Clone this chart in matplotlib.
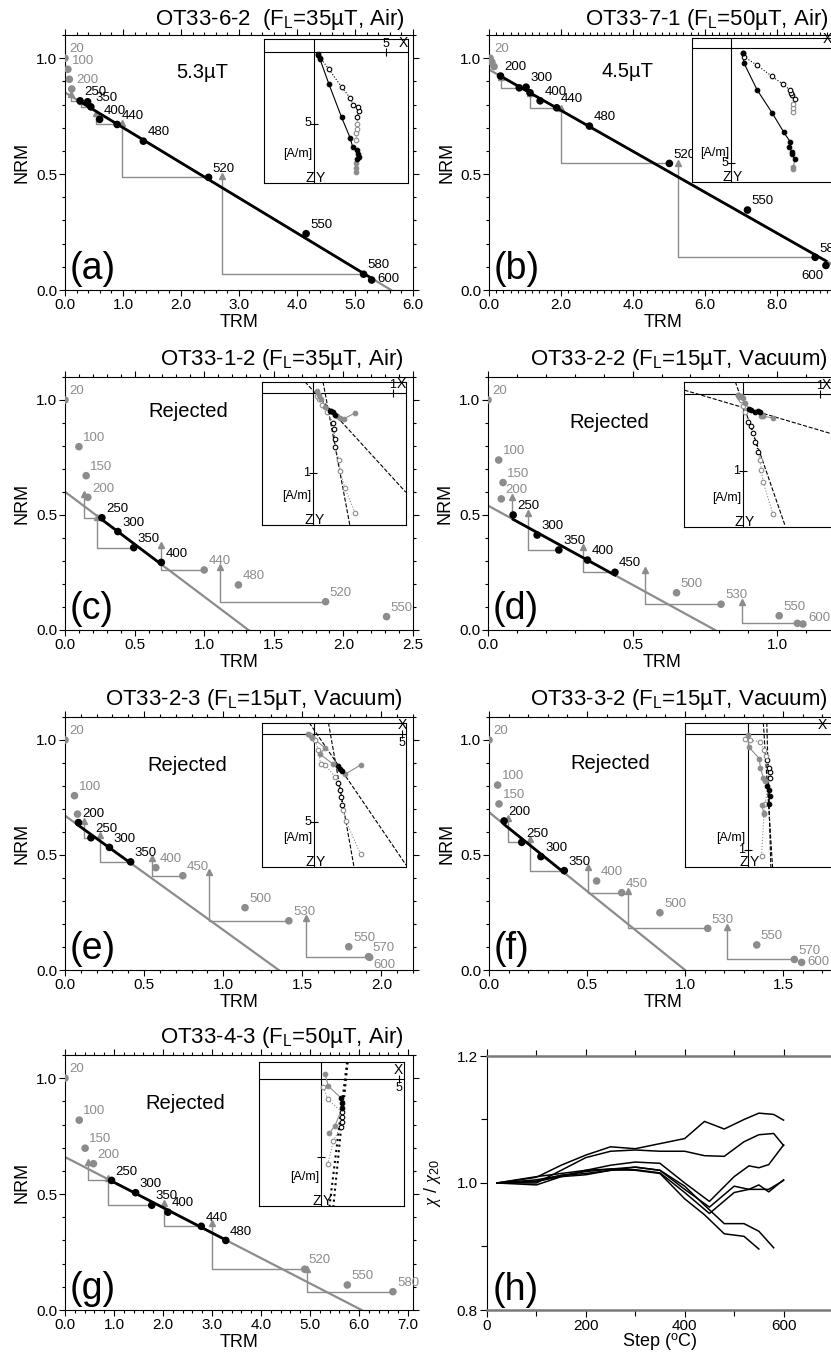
import numpy as np
import matplotlib
matplotlib.use('Agg')
import matplotlib.pyplot as plt
from matplotlib.ticker import MultipleLocator, FormatStrFormatter

W, H = 831, 1355
GRAY = '#8c8c8c'

plt.rcParams['font.family'] = ['Liberation Sans', 'DejaVu Sans']
plt.rcParams['mathtext.fontset'] = 'custom'
plt.rcParams['mathtext.rm'] = 'Liberation Sans'
plt.rcParams['mathtext.it'] = 'Liberation Serif:italic'
plt.rcParams['axes.linewidth'] = 0.8

# ---------------- Arai data ----------------
# (a) OT33-6-2
steps_a = [20, 100, 150, 200, 250, 300, 350, 400, 440, 480, 520, 550, 580, 600]
trm_a = [0.00, 0.05, 0.075, 0.116, 0.26, 0.39, 0.446, 0.597, 0.899, 1.351, 2.475, 4.157, 5.148, 5.287]
nrm_a = [1.00, 0.952, 0.909, 0.867, 0.816, 0.812, 0.790, 0.736, 0.714, 0.642, 0.486, 0.243, 0.068, 0.043]
lab_a = [20, 100, 200, 250, 350, 400, 440, 480, 520, 550, 580, 600]
sel_a = (250, 600)
fit_a = (0.852, 5.62)
chk_a = [(250, 0.10, 0.845), (350, 0.27, 0.815), (440, 0.53, 0.765), (520, 0.99, 0.72), (580, 2.71, 0.49)]

# (b) OT33-7-1
steps_b = [20, 100, 150, 200, 250, 300, 350, 400, 440, 480, 520, 550, 580, 600]
trm_b = [0.03, 0.08, 0.14, 0.32, 0.84, 1.03, 1.14, 1.42, 1.88, 2.79, 5.01, 7.18, 9.06, 9.36]
nrm_b = [1.00, 0.983, 0.964, 0.923, 0.872, 0.875, 0.851, 0.816, 0.786, 0.707, 0.546, 0.345, 0.141, 0.106]
lab_b = [20, 200, 300, 400, 440, 480, 520, 550, 580, 600]
sel_b = (200, 600)
fit_b = (0.951, 10.78)
chk_b = [(250, 0.32, 0.92), (440, 1.14, 0.85), (520, 2.0, 0.786), (580, 5.26, 0.55)]

# (c) OT33-1-2
steps_c = [20, 100, 150, 200, 250, 300, 350, 400, 440, 480, 520, 550]
trm_c = [0.0, 0.10, 0.152, 0.164, 0.265, 0.38, 0.494, 0.692, 1.0, 1.246, 1.872, 2.31]
nrm_c = [1.0, 0.797, 0.671, 0.577, 0.488, 0.428, 0.358, 0.294, 0.261, 0.196, 0.123, 0.058]
lab_c = steps_c
sel_c = (250, 400)
fit_c = (0.601, 1.318)
chk_c = [(250, 0.137, 0.593), (350, 0.229, 0.49), (440, 0.687, 0.37), (520, 1.113, 0.275)]

# (d) OT33-2-2
steps_d = [20, 100, 150, 200, 250, 300, 350, 400, 450, 500, 530, 550, 570, 600]
trm_d = [0.0, 0.037, 0.052, 0.046, 0.087, 0.17, 0.245, 0.344, 0.439, 0.652, 0.806, 1.007, 1.07, 1.089]
nrm_d = [1.0, 0.739, 0.641, 0.57, 0.50, 0.413, 0.348, 0.304, 0.251, 0.162, 0.112, 0.062, 0.029, 0.026]
lab_d = [20, 100, 150, 200, 250, 300, 350, 400, 450, 500, 530, 550, 600]
sel_d = (250, 450)
fit_d = (0.541, 0.785)
chk_d = [(250, 0.084, 0.58), (350, 0.139, 0.507), (450, 0.329, 0.362), (530, 0.543, 0.261), (570, 0.878, 0.123)]

# (e) OT33-2-3
steps_e = [20, 100, 150, 200, 250, 300, 350, 400, 450, 500, 530, 550, 570, 600]
trm_e = [0.0, 0.06, 0.079, 0.085, 0.164, 0.281, 0.415, 0.574, 0.745, 1.138, 1.415, 1.794, 1.919, 1.926]
nrm_e = [1.0, 0.758, 0.678, 0.641, 0.575, 0.533, 0.470, 0.445, 0.410, 0.271, 0.214, 0.101, 0.058, 0.055]
lab_e = [20, 100, 200, 250, 300, 350, 400, 450, 500, 530, 550, 570, 600]
sel_e = (200, 350)
fit_e = (0.671, 1.351)
chk_e = [(250, 0.123, 0.65), (350, 0.223, 0.587), (450, 0.553, 0.486), (530, 0.909, 0.428), (570, 1.526, 0.225)]

# (f) OT33-3-2
steps_f = [20, 100, 150, 200, 250, 300, 350, 400, 450, 500, 530, 550, 570, 600]
trm_f = [0.0, 0.044, 0.051, 0.077, 0.167, 0.265, 0.384, 0.549, 0.677, 0.872, 1.116, 1.366, 1.558, 1.595]
nrm_f = [1.0, 0.804, 0.722, 0.648, 0.555, 0.493, 0.432, 0.387, 0.336, 0.249, 0.181, 0.109, 0.046, 0.033]
lab_f = steps_f
sel_f = (200, 350)
fit_f = (0.686, 1.0)
chk_f = [(250, 0.095, 0.66), (350, 0.209, 0.57), (450, 0.503, 0.449), (530, 0.711, 0.345), (570, 1.213, 0.188)]

# (g) OT33-4-3
steps_g = [20, 100, 150, 200, 250, 300, 350, 400, 440, 480, 520, 550, 580]
trm_g = [0.0, 0.29, 0.41, 0.58, 0.95, 1.44, 1.77, 2.10, 2.78, 3.28, 4.89, 5.76, 6.69]
nrm_g = [1.0, 0.819, 0.698, 0.631, 0.559, 0.506, 0.452, 0.422, 0.361, 0.30, 0.176, 0.108, 0.079]
lab_g = steps_g
sel_g = (250, 480)
fit_g = (0.66, 6.05)
chk_g = [(250, 0.46, 0.64), (350, 0.87, 0.568), (440, 2.03, 0.462), (520, 3.0, 0.376), (580, 4.93, 0.176)]

# ---------------- Zijderveld inset data (A/m) ----------------
za_hx = [2.94, 2.94, 2.94, 2.98, 3.15, 3.05, 2.98, 2.70, 2.52, 1.93, 1.05, 0.42, 0.30]
za_hy = [8.37, 8.14, 7.79, 7.51, 7.32, 7.16, 6.85, 6.62, 5.99, 4.57, 2.26, 0.51, 0.21]
za_vx = [2.94, 2.94, 2.98, 2.98, 2.98, 3.15, 3.05, 2.75, 2.52, 1.93, 1.05, 0.42, 0.30]
za_vz = [6.15, 5.69, 5.35, 5.05, 4.57, 4.12, 3.82, 3.71, 3.20, 2.45, 1.21, 0.40, 0.14]

zb_hx = [2.71, 2.71, 2.78, 2.64, 2.64, 2.54, 2.57, 2.30, 1.80, 1.14, 0.57, 0.51]
zb_hy = [5.26, 5.16, 4.84, 4.61, 4.51, 4.30, 4.07, 3.67, 2.84, 1.83, 0.67, 0.23]
zb_vx = [2.71, 2.71, 2.71, 2.78, 2.67, 2.61, 2.57, 2.27, 1.77, 1.12, 0.57, 0.51]
zb_vz = [2.77, 2.62, 2.43, 2.23, 2.04, 1.97, 1.83, 1.58, 1.22, 0.74, 0.38, 0.20]

zc_hx = [0.525, 0.39, 0.34, 0.30, 0.275, 0.25, 0.22, 0.21, 0.15, 0.10, 0.07, 0.05]
zc_hy = [0.25, 0.32, 0.31, 0.29, 0.27, 0.24, 0.23, 0.22, 0.17, 0.08, 0.02, -0.02]
zc_vx = [0.525, 0.40, 0.34, 0.325, 0.28, 0.27, 0.26, 0.25, 0.17, 0.11, 0.07, 0.05]
zc_vz = [1.50, 1.19, 0.98, 0.84, 0.68, 0.58, 0.45, 0.37, 0.24, 0.15, 0.08, 0.04]
zc_fits = [((0.125, -0.14), (0.46, 1.65)), ((-0.10, -0.14), (1.16, 1.24))]

zd_hx = [0.39, 0.26, 0.24, 0.23, 0.22, 0.20, 0.16, 0.11, 0.08, 0.03, 0.0, -0.03, -0.05, -0.06]
zd_hy = [0.31, 0.29, 0.28, 0.26, 0.24, 0.22, 0.24, 0.21, 0.19, 0.12, 0.05, 0.02, 0.03, 0.01]
zd_vx = [0.39, 0.26, 0.24, 0.22, 0.20, 0.16, 0.13, 0.10, 0.07, 0.03, 0.0, -0.03, -0.05, -0.06]
zd_vz = [1.56, 1.14, 0.99, 0.86, 0.75, 0.62, 0.50, 0.42, 0.36, 0.24, 0.16, 0.08, 0.04, 0.01]
zd_fits = [((-0.10, -0.16), (0.55, 1.72)), ((-0.76, -0.05), (1.13, 0.51))]

ze_hx = [2.65, 1.76, 1.57, 1.48, 1.35, 1.10, 0.34, 0.63, -0.13, -0.32]
ze_hy = [1.76, 2.29, 2.08, 1.99, 1.82, 1.72, 1.14, 0.78, 0.19, 0.02]
ze_vx = [2.65, 1.80, 1.67, 1.61, 1.53, 1.48, 1.38, 1.19, 0.63, 0.38, 0.25, 0.06, -0.13, -0.23]
ze_vz = [6.82, 4.92, 4.32, 4.03, 3.56, 3.18, 2.77, 2.42, 1.76, 1.72, 0.91, 0.34, 0.21, 0.06]
ze_fits = [((0.82, -0.64), (2.27, 7.54)), ((-0.27, -0.64), (5.23, 7.44))]

zf_hx = [0.14, 0.12, 0.18, 0.19, 0.18, 0.17, 0.15, 0.135, 0.11, 0.10, 0.01, 0.0]
zf_hy = [0.68, 0.61, 0.60, 0.53, 0.48, 0.45, 0.40, 0.375, 0.29, 0.21, 0.11, 0.01]
zf_vx = [0.12, 0.14, 0.15, 0.19, 0.19, 0.18, 0.17, 0.16, 0.14, 0.106, 0.02, -0.02]
zf_vz = [1.05, 0.69, 0.60, 0.38, 0.33, 0.29, 0.22, 0.19, 0.136, 0.064, 0.05, 0.04]
zf_fits = [((0.135, -0.10), (0.215, 1.15)), ((0.165, -0.10), (0.20, 1.15))]

zg_hx = [0.54, 0.90, 1.37, 1.33, 1.27, 0.47, 0.26]
zg_hy = [3.48, 2.99, 1.87, 1.50, 1.19, 0.43, -0.34]
zg_vx = [0.43, 0.80, 1.27, 1.33, 1.35, 1.33, 0.43, 0.15]
zg_vz = [5.49, 3.98, 3.06, 2.75, 2.45, 2.10, 1.30, 0.48]
zg_fits = [((1.72, -1.10), (0.80, 8.17)), ((1.68, -1.10), (0.55, 8.17))]

# ---------------- susceptibility (h) ----------------
chi_steps1 = [20, 100, 150, 200, 250, 300, 350, 400, 440, 480, 520, 550, 580, 600]
chi_steps2 = [20, 100, 150, 200, 250, 300, 350, 400, 450, 500, 530, 550, 570, 600]
chi_a = [1.0, 1.009, 1.028, 1.044, 1.057, 1.054, 1.062, 1.07, 1.097, 1.085, 1.10, 1.11, 1.108, 1.099]
chi_b = [1.0, 1.0, 1.02, 1.04, 1.05, 1.052, 1.05, 1.05, 1.043, 1.042, 1.065, 1.076, 1.078, 1.059]
chi_d = [1.0, 1.003, 1.01, 1.02, 1.028, 1.033, 1.031, 1.0, 0.971, 1.01, 1.027, 1.024, 1.029, 1.06]
chi_e = [1.0, 1.005, 1.012, 1.015, 1.02, 1.025, 1.02, 0.99, 0.962, 0.995, 0.99, 0.997, 0.986, 1.005]
chi_f = [1.0, 0.997, 1.01, 1.013, 1.02, 1.021, 1.016, 0.985, 0.952, 0.985, 0.99, 0.99, 0.99, 1.004]
chi_steps_g = [20, 100, 150, 200, 250, 300, 350, 400, 440, 480, 520, 550, 580]
chi_g = [1.0, 1.01, 1.015, 1.02, 1.022, 1.025, 1.02, 0.995, 0.965, 0.936, 0.936, 0.924, 0.898]
chi_steps_c = [20, 100, 150, 200, 250, 300, 350, 400, 440, 480, 520, 550]
chi_c = [1.0, 1.002, 1.012, 1.018, 1.022, 1.02, 1.015, 0.975, 0.95, 0.92, 0.916, 0.896]


def fbox(l, t, r, b):
    return [l / W, 1 - b / H, (r - l) / W, (b - t) / H]


fig = plt.figure(figsize=(W / 100, H / 100), dpi=100)


def arai(box, steps, trm, nrm, labels, sel, fit, checks, xmax, xmaj, xmin,
         title, tx, ty, letter, note, note_xy, special=None):
    special = special or {}
    ax = fig.add_axes(fbox(*box))
    trm = np.array(trm)
    nrm = np.array(nrm)
    i0, i1 = steps.index(sel[0]), steps.index(sel[1])
    b0, xint = fit
    xs = np.array([0, xint])
    ax.plot(xs, b0 - b0 / xint * xs, color=GRAY, lw=1.6, zorder=1)
    xb = np.array([trm[i0], trm[i1]])
    ax.plot(xb, b0 - b0 / xint * xb, color='k', lw=2, zorder=3)
    for st, ct, cn in checks:
        j = steps.index(st)
        ax.plot([trm[j], ct, ct], [nrm[j], nrm[j], cn], color=GRAY, lw=1, zorder=2)
        ax.plot(ct, cn, marker='^', color=GRAY, ms=5, zorder=2)
    cols = ['k' if i0 <= i <= i1 else GRAY for i in range(len(steps))]
    ax.scatter(trm, nrm, c=cols, s=30, zorder=4, linewidths=0)
    for i, st in enumerate(steps):
        if st not in labels:
            continue
        dx, dy, ha, va = special.get(st, (3, 2, 'left', 'bottom'))
        ax.annotate(str(st), (trm[i], nrm[i]), xytext=(dx, dy), textcoords='offset points',
                    ha=ha, va=va, fontsize=9.5, color=cols[i], zorder=5)
    ax.set_xlim(0, xmax)
    ax.set_ylim(0, 1.1)
    ax.xaxis.set_major_locator(MultipleLocator(xmaj))
    ax.xaxis.set_minor_locator(MultipleLocator(xmin))
    ax.yaxis.set_major_locator(MultipleLocator(0.5))
    ax.yaxis.set_minor_locator(MultipleLocator(0.1))
    ax.xaxis.set_major_formatter(FormatStrFormatter('%.1f'))
    ax.yaxis.set_major_formatter(FormatStrFormatter('%.1f'))
    ax.tick_params(which='both', direction='out', top=True, right=True, labelsize=11,
                   width=0.8, pad=1.5)
    ax.tick_params(which='major', length=4)
    ax.tick_params(which='minor', length=2)
    wpx, hpx = box[2] - box[0], box[3] - box[1]
    ax.set_xlabel('TRM', fontsize=13)
    ax.set_ylabel('NRM', fontsize=13)
    ax.xaxis.set_label_coords(0.5 * 348 / wpx, -24 / hpx)
    ax.yaxis.set_label_coords(-34 / wpx, 0.5)
    fig.text(tx / W, 1 - ty / H, title, ha='right', va='baseline', fontsize=16)
    ax.text(5 / wpx, 11 / hpx, letter, transform=ax.transAxes, fontsize=27,
            ha='left', va='baseline')
    ax.text(note_xy[0], note_xy[1], note, transform=ax.transAxes, fontsize=14.5,
            ha='center', va='center')
    return ax


def series(ax, xs, ys, nfar, nnear, filled, ls):
    n = len(xs)
    col = [GRAY if (i < nfar or i >= n - nnear) else 'k' for i in range(n)]
    for i in range(n - 1):
        c = 'k' if (col[i] == 'k' and col[i + 1] == 'k') else GRAY
        ax.plot(xs[i:i + 2], ys[i:i + 2], color=c, lw=0.8, ls=ls, zorder=2)
    for i in range(n):
        ax.plot(xs[i], ys[i], 'o', ms=3.3, mec=col[i], mfc=col[i] if filled else 'white',
                mew=0.8, zorder=3)


def zij(box, org, s, hx, hy, hg, vx, vz, vg, fits, xlab_px, xtick=None, ytick=None,
        fit_ls='--', fit_lw=0.8):
    l, t, r, b = box
    ox, oy = org
    ax = fig.add_axes(fbox(*box))
    ax.set_xlim((l - ox) / s, (r - ox) / s)
    ax.set_ylim((b - oy) / s, (t - oy) / s)
    ax.set_xticks([])
    ax.set_yticks([])
    for sp in ax.spines.values():
        sp.set_linewidth(0.8)
    ax.axhline(0, color='k', lw=0.8, zorder=1)
    ax.axvline(0, color='k', lw=0.8, zorder=1)
    for p0, p1 in fits:
        ax.plot([p0[0], p1[0]], [p0[1], p1[1]], color='k', ls=fit_ls, lw=fit_lw, zorder=1)
    series(ax, vx, vz, vg[0], vg[1], False, ':')
    series(ax, hx, hy, hg[0], hg[1], True, '-')
    ax.text((xlab_px - ox) / s, -2 / s, 'X', ha='center', va='bottom', fontsize=10)
    if xtick is not None:
        val, lab, pos = xtick
        ax.plot(val, 0, marker='|', ms=6, color='k', mew=0.8)
        if pos == 'above':
            ax.text(val, -2 / s, lab, ha='center', va='bottom', fontsize=9)
        else:
            ax.text(val, 3 / s, lab, ha='center', va='top', fontsize=9)
    if ytick is not None:
        val, lab = ytick
        ax.plot(0, val, marker='_', ms=6, color='k', mew=0.8)
        if lab:
            ax.text(-3 / s, val, lab, ha='right', va='center', fontsize=9)
    ax.text(-2 / s, (b - 29 - oy) / s, '[A/m]', ha='right', va='center', fontsize=9)
    ax.text(0, (b - 5 - oy) / s, 'Z', ha='right', va='center', fontsize=10)
    ax.text(1.5 / s, (b - 5 - oy) / s, 'Y', ha='left', va='center', fontsize=10)
    return ax


# ---------------- panels ----------------
arai((65, 35, 413, 290), steps_a, trm_a, nrm_a, lab_a, sel_a, fit_a, chk_a, 6.0, 1.0, 0.2,
     'OT33-6-2  (F$_{\\rm L}$=35µT, Air)', 405, 25, '(a)', '5.3µT', (0.394, 0.851),
     special={600: (4, 1, 'left', 'center')})
arai((489, 35, 849, 290), steps_b, trm_b, nrm_b, lab_b, sel_b, fit_b, chk_b, 10.0, 2.0, 0.2,
     'OT33-7-1 (F$_{\\rm L}$=50µT, Air)', 828, 25, '(b)', '4.5µT', (0.386, 0.855),
     special={600: (-2, -3, 'right', 'top')})
arai((65, 377, 413, 630), steps_c, trm_c, nrm_c, lab_c, sel_c, fit_c, chk_c, 2.5, 0.5, 0.1,
     'OT33-1-2 (F$_{\\rm L}$=35µT, Air)', 403, 365, '(c)', 'Rejected', (0.353, 0.862))
arai((488, 377, 835, 630), steps_d, trm_d, nrm_d, lab_d, sel_d, fit_d, chk_d, 1.2, 0.5, 0.1,
     'OT33-2-2 (F$_{\\rm L}$=15µT, Vacuum)', 828, 365, '(d)', 'Rejected', (0.349, 0.822),
     special={600: (4, 0, 'left', 'bottom')})
arai((65, 717, 413, 970), steps_e, trm_e, nrm_e, lab_e, sel_e, fit_e, chk_e, 2.2, 0.5, 0.1,
     'OT33-2-3 (F$_{\\rm L}$=15µT, Vacuum)', 403, 705, '(e)', 'Rejected', (0.35, 0.81),
     special={600: (3, -1, 'left', 'top')})
arai((489, 717, 832, 970), steps_f, trm_f, nrm_f, lab_f, sel_f, fit_f, chk_f, 1.75, 0.5, 0.1,
     'OT33-3-2 (F$_{\\rm L}$=15µT, Vacuum)', 828, 705, '(f)', 'Rejected', (0.353, 0.818),
     special={600: (4, 0, 'left', 'center')})
arai((65, 1055, 413, 1310), steps_g, trm_g, nrm_g, lab_g, sel_g, fit_g, chk_g, 7.1, 1.0, 0.2,
     'OT33-4-3 (F$_{\\rm L}$=50µT, Air)', 403, 1043, '(g)', 'Rejected', (0.345, 0.81))

# ---------------- insets ----------------
zij((264, 39, 408, 183), (314, 52), 14.3, za_hx, za_hy, (3, 0), za_vx, za_vz, (4, 0), [], 403,
    xtick=(5, '5', 'above'), ytick=(5, '5'))
zij((692, 38, 860, 182), (731, 48), 23.0, zb_hx, zb_hy, (2, 0), zb_vx, zb_vz, (3, 0), [], 827,
    ytick=(5, '5'))
zij((262, 382, 406, 525), (313, 393), 80.0, zc_hx, zc_hy, (4, 4), zc_vx, zc_vz, (4, 4), zc_fits, 401,
    xtick=(1, '1', 'above'), ytick=(1, '1'))
zij((684, 382, 840, 527), (743, 394), 77.0, zd_hx, zd_hy, (4, 5), zd_vx, zd_vz, (4, 5), zd_fits, 826,
    xtick=(1, '1', 'above'), ytick=(1, '1'))
zij((262, 723, 406, 867), (314, 734), 17.6, ze_hx, ze_hy, (2, 5), ze_vx, ze_vz, (3, 7), ze_fits, 402,
    xtick=(5, '5', 'below'), ytick=(5, '5'))
zij((685, 723, 840, 867), (747.7, 734.3), 115.7, zf_hx, zf_hy, (2, 6), zf_vx, zf_vz, (3, 5), zf_fits, 822,
    ytick=(1, '1'))
zij((259, 1062, 404, 1206), (321, 1079.3), 15.5, zg_hx, zg_hy, (2, 2), zg_vx, zg_vz, (2, 2), zg_fits, 398,
    xtick=(5, '5', 'below'), ytick=(5, ''), fit_ls=':', fit_lw=1.5)

# ---------------- (h) susceptibility ----------------
axh = fig.add_axes(fbox(487, 1056, 833, 1310))
for st, ch in [(chi_steps1, chi_a), (chi_steps1, chi_b), (chi_steps2, chi_d), (chi_steps2, chi_e),
               (chi_steps2, chi_f), (chi_steps_g, chi_g), (chi_steps_c, chi_c)]:
    axh.plot(st, ch, color='k', lw=1.1)
axh.set_xlim(0, 700)
axh.set_ylim(0.8, 1.2)
axh.xaxis.set_major_locator(MultipleLocator(200))
axh.xaxis.set_minor_locator(MultipleLocator(100))
axh.yaxis.set_major_locator(MultipleLocator(0.2))
axh.yaxis.set_minor_locator(MultipleLocator(0.1))
axh.yaxis.set_major_formatter(FormatStrFormatter('%.1f'))
axh.spines['right'].set_visible(False)
for k in ('top', 'bottom'):
    axh.spines[k].set_color('#7a7a7a')
    axh.spines[k].set_linewidth(1.8)
axh.tick_params(which='both', direction='out', top=True, labelsize=11, width=0.8, pad=1.5)
axh.tick_params(which='major', length=5)
axh.tick_params(which='minor', length=4)
axh.set_xlabel('Step ($^{\\rm o}$C)', fontsize=13)
axh.set_ylabel('$\\chi$ / $\\chi_{20}$', fontsize=13)
axh.xaxis.set_label_coords(0.5, -22 / 254)
axh.yaxis.set_label_coords(-44 / 346, 0.5)
axh.text(6 / 346, 10 / 254, '(h)', transform=axh.transAxes, fontsize=27, ha='left', va='baseline')

fig.savefig('out.png', dpi=100)
